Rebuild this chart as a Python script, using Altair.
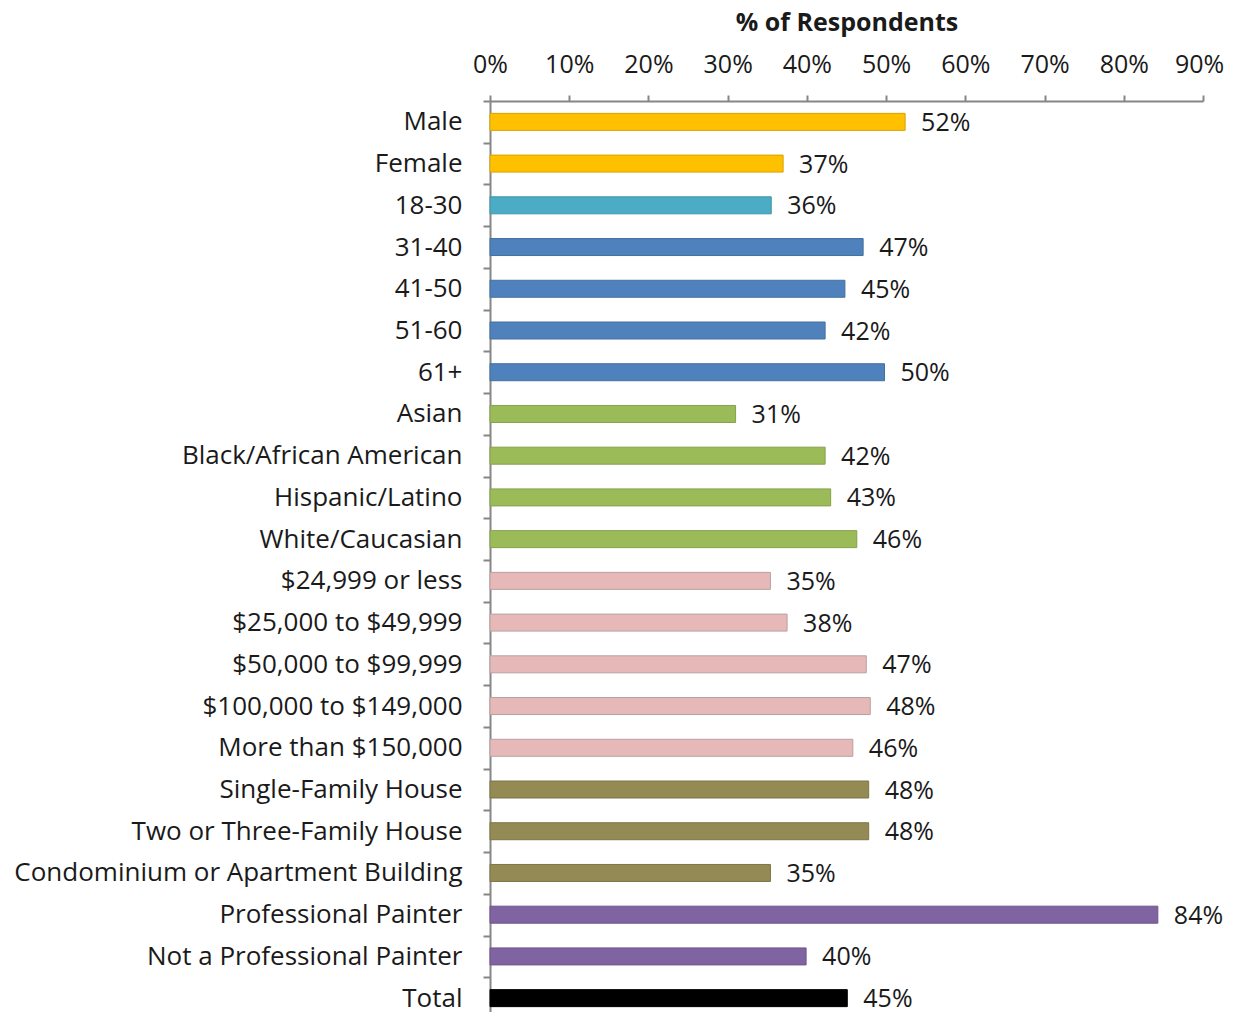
import altair as alt
import pandas as pd

categories = [
    "Male", "Female", "18-30", "31-40", "41-50", "51-60", "61+",
    "Asian", "Black/African American", "Hispanic/Latino", "White/Caucasian",
    "$24,999 or less", "$25,000 to $49,999", "$50,000 to $99,999",
    "$100,000 to $149,000", "More than $150,000",
    "Single-Family House", "Two or Three-Family House",
    "Condominium or Apartment Building",
    "Professional Painter", "Not a Professional Painter", "Total",
]
values = [52.4, 37.0, 35.5, 47.1, 44.8, 42.3, 49.8, 31.0, 42.3, 43.0, 46.3,
          35.4, 37.5, 47.5, 48.0, 45.8, 47.8, 47.8, 35.4, 84.3, 39.9, 45.1]
labels = ["52%", "37%", "36%", "47%", "45%", "42%", "50%", "31%", "42%", "43%",
          "46%", "35%", "38%", "47%", "48%", "46%", "48%", "48%", "35%", "84%",
          "40%", "45%"]
fills = (["#FFC000"] * 2 + ["#4BACC6"] + ["#4F81BD"] * 4 + ["#9BBB59"] * 4
         + ["#E6B9B8"] * 5 + ["#948A54"] * 3 + ["#8064A2"] * 2 + ["#000000"])
strokes = (["#D9A300"] * 2 + ["#3F93A9"] + ["#44709F"] * 4 + ["#85A04C"] * 4
           + ["#B8A0A0"] * 5 + ["#7E7547"] * 3 + ["#6D5589"] * 2 + ["#000000"])

df = pd.DataFrame({"cat": categories, "val": values, "lab": labels,
                   "fill": fills, "stroke": strokes})

FONT = "Open Sans"
GRAY = "#868686"
TXT = "#1a1a1a"

y_enc = alt.Y("cat:N", sort=categories, title=None,
              scale=alt.Scale(paddingInner=0, paddingOuter=0, range=[0, 918]),
              axis=alt.Axis(tickBand="extent", domainColor=GRAY, domainWidth=2,
                            tickColor=GRAY, tickWidth=2, tickSize=7,
                            labelFont=FONT, labelFontSize=26, labelColor=TXT,
                            labelPadding=21, labelLimit=600))
x_enc = alt.X("val:Q", title="% of Respondents",
              scale=alt.Scale(domain=[0, 90], nice=False),
              axis=alt.Axis(orient="top", values=list(range(0, 91, 10)),
                            labelExpr="datum.value + '%'", grid=False,
                            labelFlush=False,
                            labelOffset={"expr": "datum.value == 90 ? -4 : 0"},
                            domainColor=GRAY, domainWidth=2, tickColor=GRAY,
                            tickWidth=2, tickSize=6, labelPadding=18,
                            labelFont=FONT, labelFontSize=25, labelColor=TXT,
                            titleFont=FONT, titleFontSize=25, titleFontWeight="bold",
                            titleColor=TXT, titlePadding=17))

bars = alt.Chart(df).mark_bar(size=17, strokeWidth=1).encode(
    y=y_enc, x=x_enc,
    fill=alt.Fill("fill:N", scale=None),
    stroke=alt.Stroke("stroke:N", scale=None),
)
text = alt.Chart(df).mark_text(align="left", baseline="middle", dx=16, dy=1,
                               font=FONT, fontSize=25, color=TXT).encode(
    y=alt.Y("cat:N", sort=categories),
    x=alt.X("val:Q"),
    text="lab:N",
)

chart = (bars + text).properties(
    width=713, height=911,
    autosize=alt.AutoSizeParams(type="none"),
    padding={"left": 482, "top": 93, "right": 22, "bottom": 0},
).configure_view(stroke=None)

chart.save("out.html", embed_options={"renderer": "svg", "actions": False})
